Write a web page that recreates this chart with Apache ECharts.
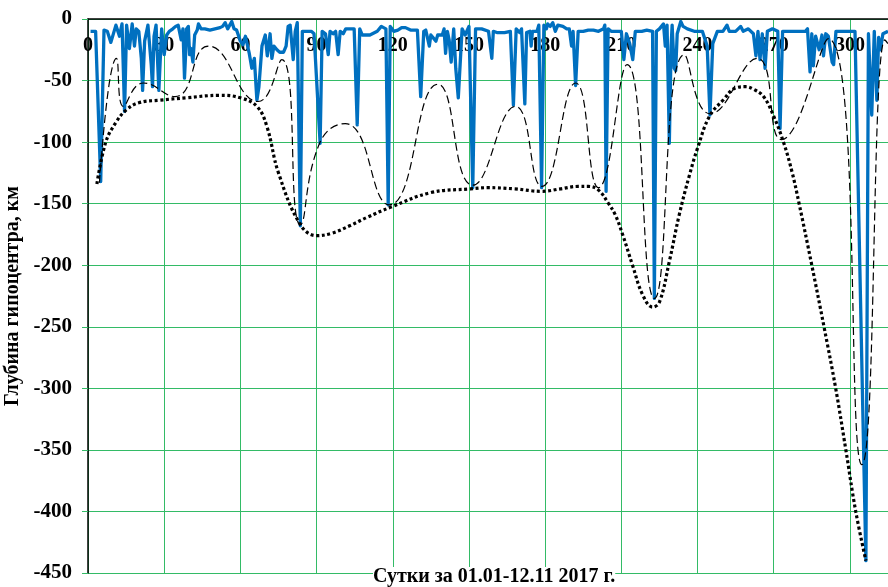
<!DOCTYPE html>
<html><head><meta charset="utf-8">
<script src="https://cdn.jsdelivr.net/npm/echarts@6/dist/echarts.min.js"></script>
<style>html,body{margin:0;padding:0;background:#fff}#c{width:888px;height:587px}</style>
</head><body><div id="c"></div>
<script>
// X ticks (days) and Y ticks (depth, km)
var xTicks = [0, 30, 60, 90, 120, 150, 180, 210, 240, 270, 300];
var yTicks = [0, -50, -100, -150, -200, -250, -300, -350, -400, -450];

// Blue series: hypocentre depth by day [day, depth]
var dailyDepth = [
[1,-10],[3,-10],[5,-132],[6.3,-9],[7.6,-10],[9,-19],[11,-5],[12.4,-14],[13.4,-4],[14.4,-75],[15.2,-5],[16.3,-24],[17.4,-4],[18.3,-22],[19,-8],[20,-10],[21,-32],[21.5,-58],[22.3,-18],[23.6,-5],[24.9,-37],[25.4,-55],[26,-14],[26.8,-5],[27.4,-4],[27.9,-58],[29,-8],[30,-29],[31,-13],[32,-10],[33.4,-8],[34.5,-6],[35.5,-5],[36.7,-17],[37.4,-8],[38,-48],[38.4,-30],[38.8,-8],[39.5,-6],[40,-29],[40.6,-24],[41.3,-35],[42,-13],[43,-9],[43.5,-4],[44.5,-8],[46,-8],[48,-9],[50,-8],[52,-7],[53,-6],[54,-3],[55,-8],[56.6,-2],[57.5,-8],[58.5,-9],[60,-18],[61,-21],[62,-14],[63.5,-28],[64.5,-40],[65.5,-32],[66.5,-66],[67.3,-55],[68.5,-22],[69.8,-13],[70.6,-30],[71.7,-12],[72.4,-32],[73.2,-22],[74.4,-25],[75.5,-27],[77,-27],[78,-22],[78.8,-6],[79.6,-5],[80.8,-33],[81.6,-10],[82.4,-3],[83.6,-168],[84.4,-10],[86,-10],[88,-10],[89,-12],[91.4,-101],[92.2,-10],[93.5,-12],[94.6,-29],[95.3,-10],[96.5,-12],[97.5,-10],[98.5,-29],[99.3,-10],[100.5,-12],[101.5,-8],[103,-8],[104.8,-8],[106,-86],[107,-8],[108,-13],[111,-13],[113.9,-10],[115.5,-6],[117.3,-8],[118.2,-151],[119,-6],[120.4,-10],[122,-9],[123.5,-7],[125,-7],[127,-9],[129.7,-9],[131,-63],[132.2,-10],[133,-9],[134.4,-22],[135,-13],[137,-18],[137.7,-13],[139.5,-13],[140.2,-8],[140.8,-28],[141.5,-10],[142.2,-17],[143,-35],[144,-8],[144.8,-40],[145.8,-64],[147.3,-8],[148.5,-13],[150,-6],[151.5,-137],[152.6,-8],[155,-8],[157.7,-10],[159,-32],[159.6,-10],[161,-11],[164,-11],[166.3,-10],[167.5,-70],[168.6,-8],[170,-11],[170.7,-8],[172,-69],[172.7,-11],[174,-10],[174.5,-22],[175,-10],[176.8,-10],[177.5,-5],[178.6,-137],[179.5,-5],[180.5,-8],[181,-4],[182,-6],[183,-3],[184,-10],[185,-5],[187,-6],[188.5,-8],[189.5,-8],[190.4,-22],[191,-10],[192,-54],[193,-10],[195,-10],[197,-9],[199,-9],[201,-10],[203,-8],[203.5,-5],[204,-140],[204.8,-8],[206,-10],[210,-10],[211,-33],[212,-12],[213.3,-20],[214.5,-33],[215.5,-10],[218,-10],[220,-9],[222.3,-10],[223,-227],[223.8,-10],[225,-8],[226.6,-4],[227.3,-22],[228,-5],[228.9,-101],[229.6,-22],[230,-5],[230.8,-40],[231.4,-42],[232,-12],[233.4,-2],[234.3,-6],[236,-8],[238.7,-10],[241.9,-10],[243.8,-22],[244.9,-78],[246,-20],[247.8,-10],[250,-10],[251.6,-5],[252.5,-10],[255,-10],[257,-6],[258,-10],[260,-8],[262,-12],[263,-30],[263.8,-10],[264.6,-33],[265.5,-12],[266.6,-40],[267.5,-10],[269.5,-8],[271.6,-10],[272.5,-89],[273.5,-10],[276,-10],[280,-10],[282.5,-10],[283.3,-8],[284.3,-43],[285,-12],[285.6,-38],[286.5,-14],[287.9,-25],[289,-13],[289.6,-30],[290.5,-12],[291.5,-14],[293,-35],[293.6,-37],[294.5,-10],[296,-10],[299,-10],[302,-10],[306.3,-440],[307.3,-12],[308.6,-78],[309.6,-10],[310.6,-66],[311.3,-15],[312,-25],[313,-12],[315,-10]
];

// Dashed envelope through local extremes [day, depth]
var envelope = [
[4.5,-133],[11.2,-32],[13.9,-71],[21.8,-52],[34.3,-63],[47.4,-22],[67,-67],[76.3,-33],[83.6,-167],[91.4,-100],[101.3,-85],[118.6,-151],[137.7,-53],[151.5,-135],[168.3,-71],[178.7,-136],[192,-52],[201,-137],[212.3,-37],[223,-227],[234.8,-29],[245,-77],[263.5,-32],[273,-98],[291.5,-16],[304.7,-362],[313.8,-17],[315,-20]
];

// Dotted trend [day, depth]
var trend = [
[3.5,-134],[7,-100],[11,-84],[15,-74],[20,-68],[28,-66],[38.6,-64],[51.8,-62],[60,-64],[66.5,-71],[70.4,-87],[75,-125],[83.6,-167],[90,-176],[96,-174],[103,-168],[110,-161],[119,-153],[135,-141],[150.6,-138],[157.5,-137],[168,-138],[178.7,-140],[186,-138],[193,-136],[197,-136],[201,-139],[205,-150],[207.6,-159],[210.5,-175],[214.4,-200],[218.4,-224],[222.3,-234],[225,-230],[228.9,-197],[232.8,-159],[236.8,-127],[240,-105],[244.7,-79],[250,-66],[255,-56],[259,-55],[262,-57],[266,-63],[270,-79],[274,-101],[277.3,-125],[280,-150],[285,-200],[289.8,-250],[294.4,-300],[298.4,-350],[302.3,-400],[306.3,-440]
];

var xTitle = 'Сутки за 01.01-12.11 2017 г.';
var yTitle = 'Глубина гипоцентра, км';

var GREEN = '#33bb66';
var FONT = '"Liberation Serif","Times New Roman",serif';
var chart = echarts.init(document.getElementById('c'), null, {renderer: 'canvas'});
chart.setOption({
  animation: false,
  backgroundColor: '#fff',
  grid: {left: 88, top: 19, right: 0, bottom: 14, containLabel: false, outerBoundsMode: 'none'},
  xAxis: {
    type: 'value', position: 'top', min: xTicks[0], max: 315, interval: 30,
    axisLine: {show: true, onZero: false, lineStyle: {color: '#000', width: 1.5}},
    axisTick: {show: false},
    axisLabel: {inside: true, margin: 17, color: '#000', fontFamily: FONT, fontWeight: 'bold', fontSize: 20,
      formatter: function (v) { return xTicks.indexOf(v) >= 0 ? String(v) : ''; }},
    splitLine: {show: true, lineStyle: {color: GREEN, width: 1}}
  },
  yAxis: {
    type: 'value', min: yTicks[yTicks.length - 1], max: yTicks[0], interval: 50,
    name: yTitle, nameLocation: 'middle', nameRotate: 90, nameGap: 59,
    nameTextStyle: {color: '#000', fontFamily: FONT, fontWeight: 'bold', fontSize: 20},
    axisLine: {show: true, lineStyle: {color: '#000', width: 1.5}},
    axisTick: {show: true, length: 6, lineStyle: {color: GREEN}},
    axisLabel: {margin: 16, color: '#000', fontFamily: FONT, fontWeight: 'bold', fontSize: 21},
    splitLine: {show: true, lineStyle: {color: GREEN, width: 1}}
  },
  graphic: [{
    type: 'text', left: 373, top: 567, z: 100,
    style: {text: xTitle, fill: '#000', font: 'bold 20px ' + FONT, backgroundColor: '#fff'}
  }],
  series: [
    {type: 'line', data: dailyDepth, showSymbol: false, symbol: 'none',
     lineStyle: {color: '#0070c0', width: 3.3, join: 'round'}, z: 2},
    {type: 'line', data: envelope, showSymbol: false, symbol: 'none', smooth: 0.5,
     lineStyle: {color: '#000', width: 1.2, type: [8, 4]}, z: 3},
    {type: 'line', data: trend, showSymbol: false, symbol: 'none', smooth: 0.4,
     lineStyle: {color: '#000', width: 3.2, type: [3, 2.6], cap: 'butt'}, z: 4}
  ]
});
</script></body></html>
